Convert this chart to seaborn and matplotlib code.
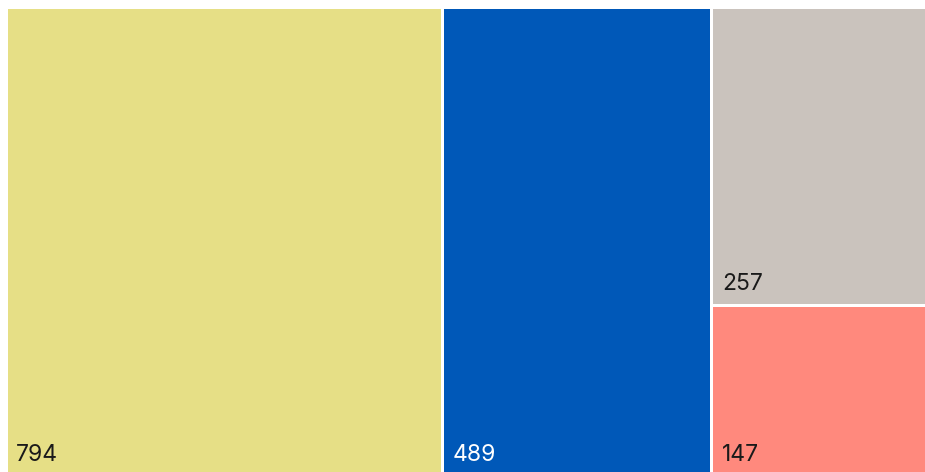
import numpy as np
import matplotlib
matplotlib.use("Agg")
import matplotlib.pyplot as plt
import seaborn as sns

# data
labels = ["794", "489", "257", "147"]
values = [794, 489, 257, 147]
colors = ["#E6DF86", "#0058B8", "#CAC3BD", "#FF897D"]
text_colors = ["#1a1a1a", "#ffffff", "#1a1a1a", "#1a1a1a"]
# squarified grouping: each inner list is one column
columns = [[0], [1], [2, 3]]

sns.set_theme(style="white")
plt.rcParams["font.family"] = ["Inter", "DejaVu Sans"]

W, H, DPI = 925, 472, 100
fig = plt.figure(figsize=(W / DPI, H / DPI), dpi=DPI)
fig.patch.set_facecolor("white")

# treemap area in pixels (runs a little past the right/bottom edge)
left_px, top_px = 5.5, 6.5
area_w, area_h = 928.0, 469.2
ax = fig.add_axes([left_px / W, (H - top_px - area_h) / H, area_w / W, area_h / H])
total = float(sum(values))
ax.set_xlim(0, total)
ax.set_ylim(0, 1)
ax.axis("off")

lw = 3 * 72 / DPI
px_x = total / area_w
px_y = 1.0 / area_h
x0 = 0.0
for col in columns:
    col_sum = sum(values[i] for i in col)
    y_top = 1.0
    for i in col:
        h = values[i] / col_sum
        ax.add_patch(plt.Rectangle((x0, y_top - h), col_sum, h,
                                   facecolor=colors[i], edgecolor="white",
                                   linewidth=lw))
        # label at bottom-left
        ax.text(x0 + 10.5 * px_x, y_top - h + 14.5 * px_y, labels[i],
                ha="left", va="baseline", color=text_colors[i], fontsize=16.5)
        y_top -= h
    x0 += col_sum

sns.despine(ax=ax, left=True, bottom=True)
fig.savefig("out.png", dpi=DPI, facecolor="white")
